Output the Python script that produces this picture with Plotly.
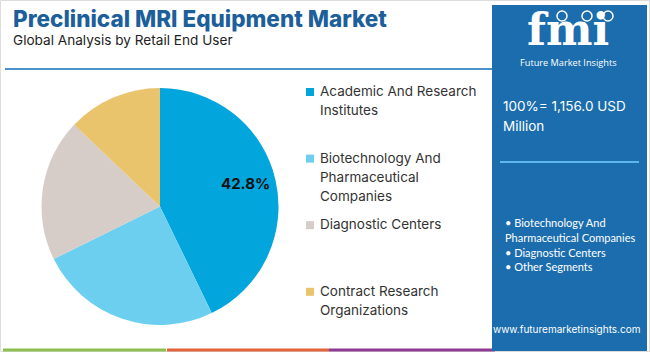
import math
import plotly.graph_objects as go

# ---- data ----
categories = ["Academic And Research Institutes",
              "Biotechnology And Pharmaceutical Companies",
              "Diagnostic Centers",
              "Contract Research Organizations"]
legend_lines = [["Academic And Research", "Institutes"],
                ["Biotechnology And", "Pharmaceutical", "Companies"],
                ["Diagnostic Centers"],
                ["Contract Research", "Organizations"]]
shares = [42.8, 24.9, 19.4, 12.9]
colors = ["#02a5dc", "#6dcff0", "#d6ccc8", "#e9c46c"]
total_value = "1,156.0"
panel_bullets = ["• Biotechnology And", "Pharmaceutical Companies",
                 "• Diagnostic Centers", "• Other Segments"]

W, H = 650, 352
def px(x): return x / W
def py(y): return 1 - y / H

# pie geometry: center (160, 206.5), radius 118.5
cx, cy, r = 160, 206.5, 118.5

fig = go.Figure(go.Pie(
    labels=categories, values=shares, sort=False, direction="clockwise",
    rotation=0, marker=dict(colors=colors, line=dict(width=0)),
    textinfo="none",
    domain=dict(x=[px(cx - r), px(cx + r)], y=[py(cy + r), py(cy - r)]),
    showlegend=False, hoverinfo="label+percent"))

shapes = []
annotations = []

def ann(x, y, text, size, color, family="Inter", weight=400, xanchor="left"):
    annotations.append(dict(x=px(x), y=py(y), xref="paper", yref="paper",
                            text=text, showarrow=False, xanchor=xanchor, yanchor="middle",
                            font=dict(family=family, size=size, color=color, weight=weight)))

# label of the largest slice, placed along its mid-angle
imax = shares.index(max(shares))
start = sum(shares[:imax]) / sum(shares) * 360
mid = math.radians(start + shares[imax] / sum(shares) * 180 - 2)
lx = cx + 0.75 * r * math.sin(mid)
ly = cy - 0.75 * r * math.cos(mid)
ann(lx, ly, f"{shares[imax]:.1f}%", 15, "#111111", weight=700, xanchor="center")

# outer frame
shapes.append(dict(type="rect", xref="paper", yref="paper", x0=px(0.5), x1=px(W - 0.5),
                   y0=py(H - 0.5), y1=py(0.5), line=dict(color="#dcdcdc", width=1)))

# title
ann(11, 18, "Preclinical MRI Equipment Market", 22.5, "#1c5f9b", weight=800)
ann(11, 40, "Global Analysis by Retail End User", 13.6, "#222222")
# separator line
shapes.append(dict(type="line", xref="paper", yref="paper", x0=px(5), x1=px(492),
                   y0=py(69), y1=py(69), line=dict(color="#4d8fc9", width=2)))

# bottom colour strip
strip = [("#8cbf4e", 3, 166), ("#e0633a", 167, 329), ("#8e3b94", 329, 495)]
for c, a, b in strip:
    shapes.append(dict(type="rect", xref="paper", yref="paper", x0=px(a), x1=px(b),
                       y0=py(351.5), y1=py(348.5), line=dict(width=0), fillcolor=c))

# legend (manual, fixed spacing)
leg_y0, leg_step, line_h = 91, 66.6, 19
for i, (lines, col) in enumerate(zip(legend_lines, colors)):
    y = leg_y0 + i * leg_step
    shapes.append(dict(type="rect", xref="paper", yref="paper", x0=px(306), x1=px(314),
                       y0=py(y + 5), y1=py(y - 3), line=dict(width=0), fillcolor=col))
    for j, t in enumerate(lines):
        ann(318, y + j * line_h, t, 13.5, "#333333")

# right panel
panel = "#1b6dad"
shapes.append(dict(type="rect", xref="paper", yref="paper", x0=px(492), x1=px(647),
                   y0=py(351), y1=py(5), line=dict(width=0), fillcolor=panel))
# logo
ann(568, 30, "fmi", 44, "white", family="DejaVu Serif", weight=700, xanchor="center")
for gx in [562, 587, 608]:
    shapes.append(dict(type="circle", xref="paper", yref="paper", x0=px(gx - 5), x1=px(gx + 5),
                       y0=py(21), y1=py(11), line=dict(color="white", width=1.5),
                       fillcolor=panel))
ann(568, 63, "Future Market Insights", 9.2, "white", family="Open Sans", xanchor="center")

ann(501, 106, f"100%= {total_value} USD", 13.5, "white")
ann(501, 126, "Million", 13.5, "white")
shapes.append(dict(type="line", xref="paper", yref="paper", x0=px(500), x1=px(639),
                   y0=py(162), y1=py(162), line=dict(color="#5cb8ec", width=2)))

for k, t in enumerate(panel_bullets):
    ann(503, 222.5 + k * 14.8, t, 11, "white", family="Lato")

ann(566, 329, "www.futuremarketinsights.com", 10, "white", xanchor="center")

fig.update_layout(width=W, height=H, margin=dict(l=0, r=0, t=0, b=0),
                  paper_bgcolor="white", plot_bgcolor="white",
                  shapes=shapes, annotations=annotations, showlegend=False)
fig.write_html("out.html")
